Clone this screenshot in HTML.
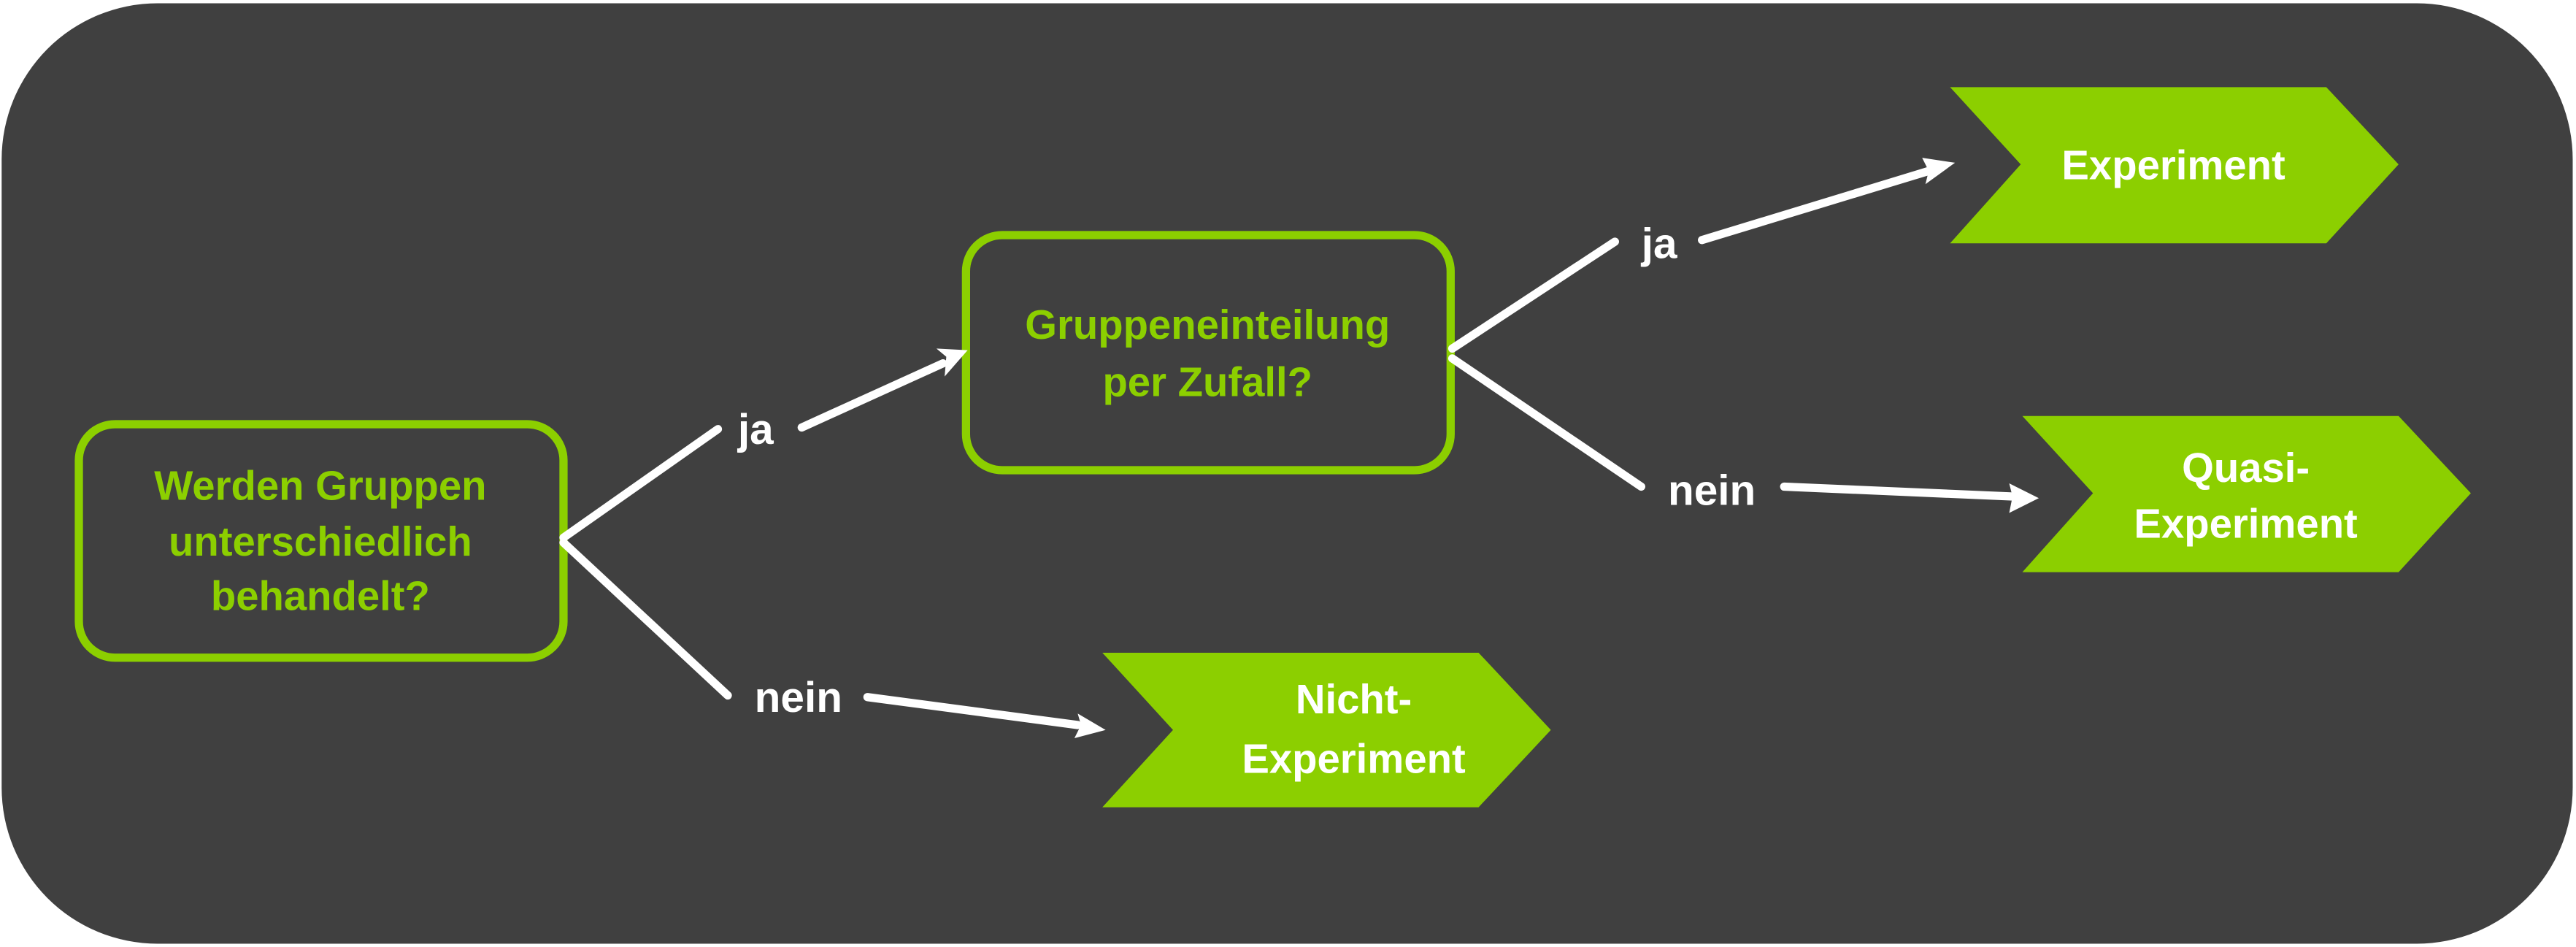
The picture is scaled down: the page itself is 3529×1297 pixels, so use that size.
<!DOCTYPE html>
<html><head><meta charset="utf-8"><style>
html,body{margin:0;padding:0;background:#fff;}
svg{display:block;}
text{font-family:"Liberation Sans",sans-serif;font-weight:bold;text-anchor:middle;}
</style></head><body>
<svg width="3529" height="1297" viewBox="0 0 1568 576" preserveAspectRatio="none" xmlns="http://www.w3.org/2000/svg">
<rect x="1" y="2" width="1565" height="572" rx="95" ry="95" fill="#404040"/>
<rect x="48" y="258" width="295" height="142" rx="22" fill="none" stroke="#8ccf00" stroke-width="5"/>
<g fill="#8ccf00" font-size="25">
<text x="195" y="304">Werden Gruppen</text>
<text x="195" y="338">unterschiedlich</text>
<text x="195" y="371">behandelt?</text>
</g>
<rect x="588" y="143" width="295" height="143" rx="22" fill="none" stroke="#8ccf00" stroke-width="5"/>
<g fill="#8ccf00" font-size="25">
<text x="735" y="206">Gruppeneinteilung</text>
<text x="735" y="241">per Zufall?</text>
</g>
<g fill="#8ccf00">
<polygon points="1187,53 1416,53 1460,100 1416,148 1187,148 1230,100"/>
<polygon points="1231,253 1460,253 1504,300 1460,348 1231,348 1274,300"/>
<polygon points="671,397 900,397 944,444 900,491 671,491 714,444"/>
</g>
<g fill="#fff" font-size="25">
<text x="1323" y="109">Experiment</text>
<text x="1367" y="293">Quasi-</text>
<text x="1367" y="327">Experiment</text>
<text x="824" y="434">Nicht-</text>
<text x="824" y="470">Experiment</text>
</g>
<g fill="#fff" font-size="26">
<text x="460" y="270">ja</text>
<text x="486" y="433">nein</text>
<text x="1010" y="157">ja</text>
<text x="1042" y="307">nein</text>
</g>
<g stroke="#fff" stroke-width="5" stroke-linecap="round" fill="none">
<line x1="343" y1="327" x2="437" y2="261"/>
<line x1="488" y1="260" x2="574" y2="221"/>
<line x1="343" y1="330" x2="443" y2="423"/>
<line x1="528" y1="424" x2="656" y2="441"/>
<line x1="884" y1="212" x2="983" y2="147"/>
<line x1="1036" y1="146" x2="1174" y2="104"/>
<line x1="884" y1="218" x2="999" y2="296"/>
<line x1="1086" y1="296" x2="1225" y2="302"/>
</g>
<g fill="#fff">
<polygon points="589,213 570,212 576,217 575,229"/>
<polygon points="673,444 656,434 658,441 654,449"/>
<polygon points="1190,99 1170,96 1174,104 1172,112"/>
<polygon points="1241,303 1223,294 1225,302 1223,312"/>
</g>
</svg>
</body></html>
